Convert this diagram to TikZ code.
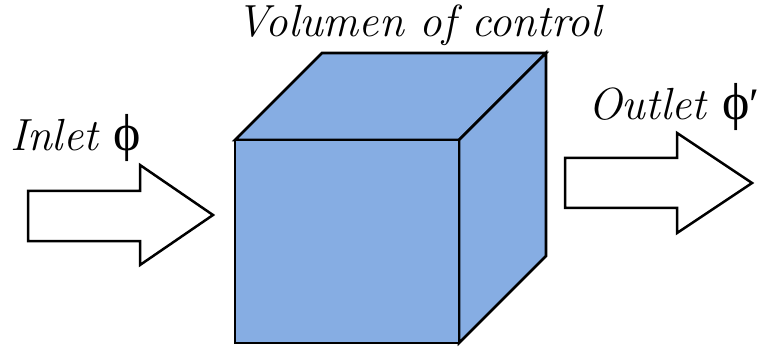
\documentclass[tikz,border=0pt]{standalone}
\usepackage{fontspec}
\newfontfamily\grk{Liberation Serif}
\newcommand{\bigphi}{{\upshape\grk\fontsize{52}{56}\selectfont ϕ}}
\definecolor{cubeblue}{RGB}{134,173,227}
\tikzset{
  face/.style={fill=cubeblue, draw=black, line width=2.6pt, line join=miter},
  bigarrow/.style={fill=white, draw=black, line width=2.5pt, line join=miter},
  lbl/.style={font=\fontsize{45}{50}\selectfont\itshape, inner sep=0pt, anchor=base west}
}
\begin{document}
\begin{tikzpicture}[x=1pt,y=-1pt]
\useasboundingbox (0,0) rectangle (761,350);
% cube corners
\coordinate (ftl) at (235,140);
\coordinate (ftr) at (459,140);
\coordinate (fbl) at (235,343);
\coordinate (fbr) at (459,343);
\coordinate (btl) at (322,53);
\coordinate (btr) at (546,53);
\coordinate (bbr) at (546,256);
\draw[face] (ftl) -- (btl) -- (btr) -- (ftr) -- cycle;
\draw[face] (ftr) -- (btr) -- (bbr) -- (fbr) -- cycle;
\draw[face] (ftl) rectangle (fbr);
% inlet arrow
\draw[bigarrow] (28,191) -- (140,191) -- (140,165) -- (213,215) -- (140,265) -- (140,241) -- (28,241) -- cycle;
% outlet arrow
\draw[bigarrow] (565,158) -- (677,158) -- (677,133) -- (752,183) -- (677,233) -- (677,208) -- (565,208) -- cycle;
% labels
\node[lbl] (vol) at (236,37) {Volumen of control};
\node[lbl] (in) at (10,151) {Inlet \bigphi};
\node[lbl] (out) at (588,120) {Outlet \bigphi{\upshape\grk ′}};
\end{tikzpicture}
\end{document}
